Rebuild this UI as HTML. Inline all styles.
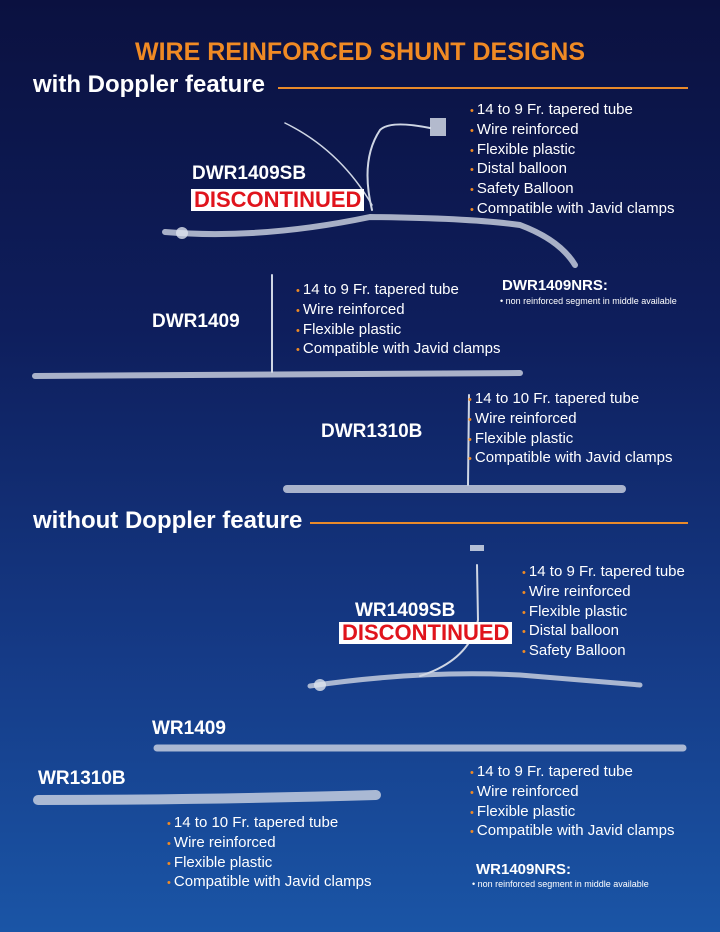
<!DOCTYPE html>
<html><head><meta charset="utf-8"><style>
body{margin:0;width:720px;height:932px;overflow:hidden;font-family:"Liberation Sans",sans-serif;}
#bg{position:absolute;left:0;top:0;width:720px;height:932px;background:linear-gradient(180deg,#0b1140 0%,#0e1e5c 35%,#153a86 70%,#1a55a6 100%);}
.t{position:absolute;color:#fff;white-space:nowrap;}
.ul{position:absolute;color:#fff;font-size:15px;white-space:nowrap;}
.ul div{height:19.8px;line-height:19.8px;overflow:visible;}
.ul div:before{content:"• ";color:#f08a24;font-size:11px;line-height:0;}
.h{font-weight:bold;font-size:24px;}
.lbl{font-weight:bold;font-size:19px;}
.disc{position:absolute;background:#fff;color:#e0141c;font-weight:bold;font-size:22px;line-height:22px;padding:0 3px;}
.hr{position:absolute;height:2px;background:#e98a2a;}
.sm{font-size:9px;}
</style></head><body><div id="bg"></div>
<div class="t" style="left:0;width:720px;text-align:center;top:38px;font-size:25px;font-weight:bold;color:#f08a24;">WIRE REINFORCED SHUNT DESIGNS</div>
<div class="t h" style="left:33px;top:71px;">with Doppler feature</div>
<div class="hr" style="left:278px;top:87px;width:410px;"></div>
<div class="t h" style="left:33px;top:507px;">without Doppler feature</div>
<div class="hr" style="left:310px;top:522px;width:378px;"></div>

<svg width="720" height="932" style="position:absolute;left:0;top:0" fill="none">
<g stroke="#cfd6e4" stroke-linecap="round">
<path d="M165 232 Q260 240 370 217 Q470 218 520 225 Q560 240 575 265" stroke-width="6" opacity=".8"/>
<path d="M285 123 Q340 150 372 205" stroke-width="1.5"/>
<path d="M372 210 Q360 160 380 130 Q390 120 430 128" stroke-width="2"/>
<path d="M35 376 L520 373" stroke-width="6" opacity=".8"/>
<path d="M272 275 L272 372" stroke-width="2"/>
<path d="M287 489 L622 489" stroke-width="8" opacity=".8"/>
<path d="M469 395 L468 485" stroke-width="2"/>
<path d="M310 686 Q420 670 520 675 L640 685" stroke-width="5" opacity=".8"/>
<path d="M477 565 L478 620 Q470 660 420 676" stroke-width="2"/>
<path d="M157 748 L683 748" stroke-width="7" opacity=".8"/>
<path d="M38 800 Q200 800 376 795" stroke-width="10" opacity=".8"/>
</g>
<circle cx="182" cy="233" r="6" fill="#dde3ee" opacity=".8"/>
<circle cx="320" cy="685" r="6" fill="#dde3ee" opacity=".8"/>
<rect x="430" y="118" width="16" height="18" fill="#dde3ee" opacity=".8"/>
<rect x="470" y="545" width="14" height="6" fill="#dde3ee" opacity=".8"/>
</svg>

<div class="t lbl" style="left:192px;top:163px;">DWR1409SB</div>
<div class="disc" style="left:191px;top:189px;">DISCONTINUED</div>
<div class="ul" style="left:470px;top:100px;"><div>14 to 9 Fr. tapered tube</div><div>Wire reinforced</div><div>Flexible plastic</div><div>Distal balloon</div><div>Safety Balloon</div><div>Compatible with Javid clamps</div></div>
<div class="t" style="left:502px;top:277px;font-size:15px;font-weight:bold;">DWR1409NRS:</div>
<div class="t sm" style="left:500px;top:296px;">• non reinforced segment in middle available</div>

<div class="t lbl" style="left:152px;top:311px;">DWR1409</div>
<div class="ul" style="left:296px;top:280px;"><div>14 to 9 Fr. tapered tube</div><div>Wire reinforced</div><div>Flexible plastic</div><div>Compatible with Javid clamps</div></div>

<div class="t lbl" style="left:321px;top:421px;">DWR1310B</div>
<div class="ul" style="left:468px;top:389px;"><div>14 to 10 Fr. tapered tube</div><div>Wire reinforced</div><div>Flexible plastic</div><div>Compatible with Javid clamps</div></div>

<div class="t lbl" style="left:355px;top:600px;">WR1409SB</div>
<div class="disc" style="left:339px;top:622px;">DISCONTINUED</div>
<div class="ul" style="left:522px;top:562px;"><div>14 to 9 Fr. tapered tube</div><div>Wire reinforced</div><div>Flexible plastic</div><div>Distal balloon</div><div>Safety Balloon</div></div>

<div class="t lbl" style="left:152px;top:718px;">WR1409</div>
<div class="t lbl" style="left:38px;top:768px;">WR1310B</div>
<div class="ul" style="left:470px;top:762px;"><div>14 to 9 Fr. tapered tube</div><div>Wire reinforced</div><div>Flexible plastic</div><div>Compatible with Javid clamps</div></div>
<div class="ul" style="left:167px;top:813px;"><div>14 to 10 Fr. tapered tube</div><div>Wire reinforced</div><div>Flexible plastic</div><div>Compatible with Javid clamps</div></div>
<div class="t" style="left:476px;top:861px;font-size:15px;font-weight:bold;">WR1409NRS:</div>
<div class="t sm" style="left:472px;top:879px;">• non reinforced segment in middle available</div>
</body></html>
